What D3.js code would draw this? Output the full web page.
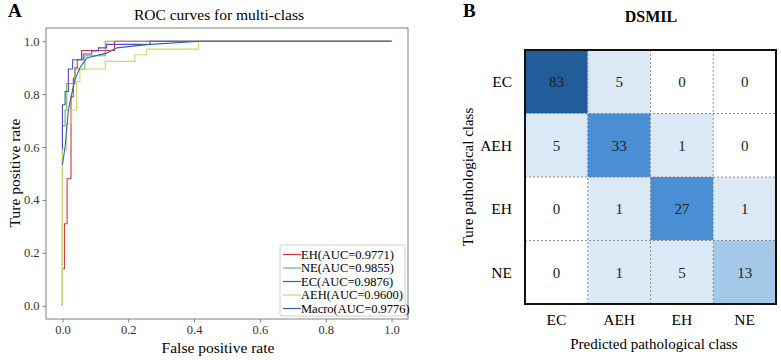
<!DOCTYPE html>
<html>
<head>
<meta charset="utf-8">
<script src="https://cdn.jsdelivr.net/npm/d3@7"></script>
<style>
  body { margin: 0; background: #fff; }
  svg { font-family: "Liberation Serif", "Times New Roman", serif; }
</style>
</head>
<body>
<svg id="fig" width="781" height="360"></svg>
<script>
/*    ========    DATA    =========    */

// ROC corner points [fpr, tpr] for each class
var rocEH  = [[0,0],[0,0.14],[0.006,0.14],[0.006,0.31],[0.014,0.31],[0.014,0.48],[0.026,0.48],[0.026,0.79],
              [0.033,0.79],[0.033,0.86],[0.038,0.86],[0.038,0.90],[0.045,0.90],[0.045,0.93],[0.058,0.93],
              [0.058,0.965],[0.158,0.965],[0.158,1],[1,1]];
var rocNE  = [[0,0],[0,0.68],[0.008,0.68],[0.008,0.74],[0.013,0.74],[0.013,0.84],[0.038,0.84],[0.038,0.895],
              [0.068,0.895],[0.068,0.945],[0.13,0.945],[0.13,1],[1,1]];
var rocEC  = [[0,0],[0,0.76],[0.008,0.76],[0.008,0.81],[0.018,0.81],[0.018,0.895],[0.031,0.895],[0.031,0.93],
              [0.063,0.93],[0.063,0.952],[0.089,0.952],[0.089,0.963],[0.109,0.963],[0.109,0.975],[0.134,0.975],
              [0.134,0.988],[0.266,0.988],[0.266,1],[1,1]];
var rocAEH = [[0,0],[0,0.59],[0.013,0.59],[0.013,0.69],[0.028,0.69],[0.028,0.74],[0.043,0.74],[0.043,0.848],
              [0.053,0.848],[0.053,0.895],[0.13,0.895],[0.13,0.924],[0.22,0.924],[0.22,0.949],[0.256,0.949],
              [0.256,0.97],[0.413,0.97],[0.413,1],[1,1]];
var rocMacro = [[0,0.533],[0.008,0.60],[0.018,0.74],[0.028,0.80],[0.038,0.855],[0.053,0.90],[0.074,0.937],
                [0.134,0.955],[0.165,0.975],[0.256,0.987],[0.418,1],[1,1]];

var rocNames = ["EH(AUC=0.9771)", "NE(AUC=0.9855)", "EC(AUC=0.9876)", "AEH(AUC=0.9600)", "Macro(AUC=0.9776)"];
var rocColors = ["#d9313f", "#66bb5e", "#5548cf", "#c4db68", "#2a68ab"];

var ticks = [0.0, 0.2, 0.4, 0.6, 0.8, 1.0];

// confusion matrix (rows: true, cols: predicted)
var classes = ["EC", "AEH", "EH", "NE"];
var matrix = [
    [83, 5, 0, 0],
    [5, 33, 1, 0],
    [0, 1, 27, 1],
    [0, 1, 5, 13]
];

/*    ========    PANEL A : ROC    =========    */

var svg = d3.select("#fig");

var x = d3.scaleLinear().domain([-0.05, 1.05]).range([46, 408]);
var y = d3.scaleLinear().domain([-0.05, 1.05]).range([319, 28]);

svg.append("text")
    .attr("x", 8).attr("y", 17)
    .style("font-size", "19px").style("font-weight", "bold")
    .text("A");

svg.append("text")
    .attr("x", 219).attr("y", 20)
    .attr("text-anchor", "middle")
    .style("font-size", "15.5px")
    .text("ROC curves for multi-class");

var line = d3.line()
    .x(function(d) { return x(d[0]); })
    .y(function(d) { return y(d[1]); });

var curves = [rocEH, rocNE, rocEC, rocAEH, rocMacro];
svg.append("g").selectAll("path")
    .data(curves)
    .join("path")
    .attr("d", line)
    .attr("fill", "none")
    .attr("stroke", function(d, i) { return rocColors[i]; })
    .attr("stroke-width", 1.1);

// spines
svg.append("rect")
    .attr("x", 46).attr("y", 28)
    .attr("width", 362).attr("height", 291)
    .attr("fill", "none")
    .attr("stroke", "#808080")
    .attr("stroke-width", 1);

var axX = svg.append("g")
    .attr("transform", "translate(0,319)")
    .call(d3.axisBottom(x).tickValues(ticks).tickSize(3.5).tickPadding(3).tickFormat(d3.format(".1f")));
var axY = svg.append("g")
    .attr("transform", "translate(46,0)")
    .call(d3.axisLeft(y).tickValues(ticks).tickSize(3.5).tickPadding(3).tickFormat(d3.format(".1f")));
[axX, axY].forEach(function(a) {
    a.attr("font-family", "Liberation Serif").attr("font-size", 12.5);
    a.select(".domain").remove();
    a.selectAll(".tick line").attr("stroke", "#808080");
    a.selectAll(".tick text").attr("fill", "#333");
});

svg.append("text")
    .attr("x", 218).attr("y", 353)
    .attr("text-anchor", "middle")
    .style("font-size", "15.5px")
    .text("False positive rate");

svg.append("text")
    .attr("transform", "translate(20,173) rotate(-90)")
    .attr("text-anchor", "middle")
    .style("font-size", "15.5px")
    .text("Ture positive rate");

// legend
var leg = svg.append("g").attr("transform", "translate(280,245)");
leg.append("rect")
    .attr("width", 125).attr("height", 71)
    .attr("rx", 2)
    .attr("fill", "#fff").attr("fill-opacity", 0.85)
    .attr("stroke", "#d0d0d0");
var items = leg.selectAll("g.item")
    .data(rocNames)
    .join("g")
    .attr("class", "item")
    .attr("transform", function(d, i) { return "translate(0," + (9.5 + i * 13.5) + ")"; });
items.append("line")
    .attr("x1", 3).attr("x2", 21)
    .attr("stroke", function(d, i) { return rocColors[i]; })
    .attr("stroke-width", 1.2);
items.append("text")
    .attr("x", 21).attr("dy", "0.35em")
    .style("font-size", "12.5px")
    .text(function(d) { return d; });

/*    ========    PANEL B : CONFUSION MATRIX    =========    */

svg.append("text")
    .attr("x", 463).attr("y", 17)
    .style("font-size", "19px").style("font-weight", "bold")
    .text("B");

svg.append("text")
    .attr("x", 651).attr("y", 22)
    .attr("text-anchor", "middle")
    .style("font-size", "16px").style("font-weight", "bold")
    .text("DSMIL");

var cx = d3.scaleBand().domain(classes).range([525, 776]);
var cy = d3.scaleBand().domain(classes).range([50, 304]);

var color = d3.scaleThreshold()
    .domain([1, 10, 20, 50])
    .range(["#ffffff", "#dbe9f6", "#a5c8e9", "#4a8fd4", "#225c9a"]);

var cells = [];
matrix.forEach(function(row, i) {
    row.forEach(function(v, j) {
        cells.push({ t: classes[i], p: classes[j], v: v });
    });
});

svg.append("g").selectAll("rect")
    .data(cells)
    .join("rect")
    .attr("x", function(d) { return cx(d.p); })
    .attr("y", function(d) { return cy(d.t); })
    .attr("width", cx.bandwidth())
    .attr("height", cy.bandwidth())
    .attr("fill", function(d) { return color(d.v); });

// dashed inner grid
var grid = svg.append("g")
    .attr("stroke", "#777")
    .attr("stroke-width", 0.8)
    .attr("stroke-dasharray", "2,2");
classes.slice(1).forEach(function(c) {
    grid.append("line")
        .attr("x1", cx(c)).attr("x2", cx(c))
        .attr("y1", 50).attr("y2", 304);
    grid.append("line")
        .attr("x1", 525).attr("x2", 776)
        .attr("y1", cy(c)).attr("y2", cy(c));
});

svg.append("g").selectAll("text")
    .data(cells)
    .join("text")
    .attr("x", function(d) { return cx(d.p) + cx.bandwidth() / 2; })
    .attr("y", function(d) { return cy(d.t) + cy.bandwidth() / 2; })
    .attr("dy", "0.35em")
    .attr("text-anchor", "middle")
    .style("font-size", "15px")
    .attr("fill", "#222")
    .text(function(d) { return d.v; });

svg.append("rect")
    .attr("x", 525).attr("y", 50)
    .attr("width", 251).attr("height", 254)
    .attr("fill", "none")
    .attr("stroke", "#111")
    .attr("stroke-width", 2);

svg.append("g").selectAll("text")
    .data(classes)
    .join("text")
    .attr("x", 512)
    .attr("y", function(d) { return cy(d) + cy.bandwidth() / 2; })
    .attr("dy", "0.35em")
    .attr("text-anchor", "end")
    .style("font-size", "15.5px")
    .text(function(d) { return d; });

svg.append("g").selectAll("text")
    .data(classes)
    .join("text")
    .attr("x", function(d) { return cx(d) + cx.bandwidth() / 2; })
    .attr("y", 320)
    .attr("dy", "0.35em")
    .attr("text-anchor", "middle")
    .style("font-size", "15.5px")
    .text(function(d) { return d; });

svg.append("text")
    .attr("x", 654).attr("y", 344)
    .attr("dy", "0.35em")
    .attr("text-anchor", "middle")
    .style("font-size", "15px")
    .text("Predicted pathological class");

svg.append("text")
    .attr("transform", "translate(468,177) rotate(-90)")
    .attr("dy", "0.35em")
    .attr("text-anchor", "middle")
    .style("font-size", "15px")
    .text("Ture pathological class");
</script>
</body>
</html>
